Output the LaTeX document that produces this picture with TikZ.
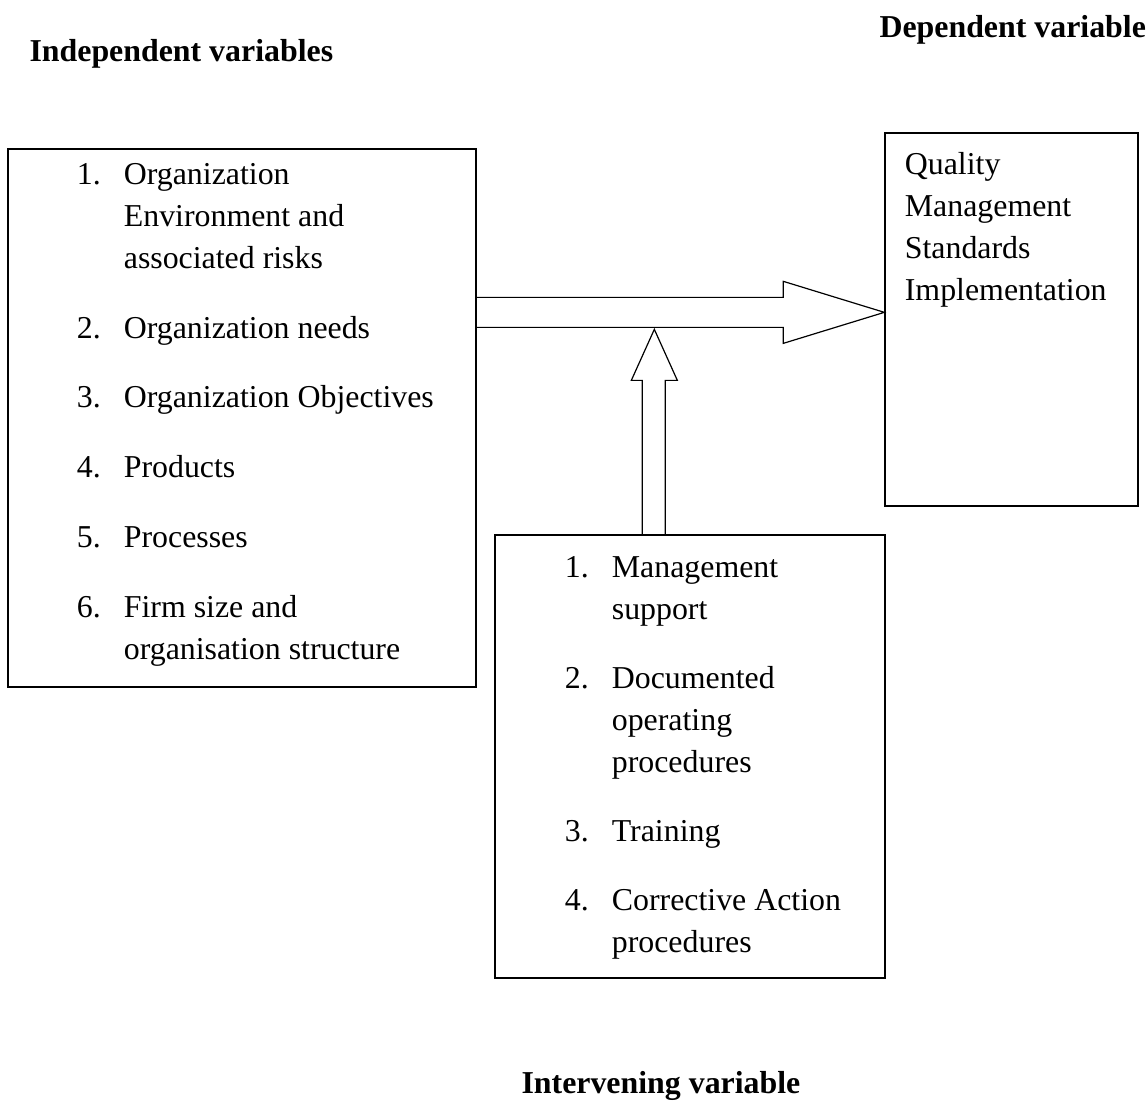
\documentclass[tikz,border=0pt]{standalone}
\usepackage{fontspec}
\setmainfont{Liberation Serif}
\usetikzlibrary{calc,fit}

\tikzset{
  varbox/.style={draw,line width=0.5pt,inner sep=0pt},
  heading/.style={font=\fontsize{12pt}{14pt}\selectfont\bfseries,
    inner sep=0pt,anchor=base west},
  listtext/.style={inner sep=0pt,anchor=base west,align=left,
    font=\fontsize{12pt}{15.8pt}\selectfont},
  blockarrow/.style={line width=0.45pt,line join=miter}
}

\begin{document}
\begin{tikzpicture}[x=0.3766pt,y=-0.3766pt]
  \useasboundingbox (0,0) rectangle (1147,1102);

  % the three boxes
  \node[varbox,fit={(8,149) (476,687)}] (indbox) {};
  \node[varbox,fit={(885,133) (1138,506)}] (depbox) {};
  \node[varbox,fit={(495,535) (885,978)}] (intbox) {};

  % headings
  \node[heading] (indhead) at (29,61) {Independent variables};
  \node[heading] (dephead) at (879,37) {Dependent variable};
  \node[heading] (inthead) at (521,1093) {Intervening variable};

  % box contents
  \node[listtext] (indlist) at ($(indbox.north west)+(69,36)$) {%
    \begin{tabular}[t]{@{}p{17.7pt}@{}l@{}}
      1. & Organization\\
         & Environment and\\
         & associated risks\\[10.5pt]
      2. & Organization needs\\[10.5pt]
      3. & Organization Objectives\\[10.5pt]
      4. & Products\\[10.5pt]
      5. & Processes\\[10.5pt]
      6. & Firm size and\\
         & organisation structure
    \end{tabular}};
  \node[listtext] (deplist) at ($(depbox.north west)+(20,42)$) {%
    \begin{tabular}[t]{@{}l@{}}
      Quality\\
      Management\\
      Standards\\
      Implementation
    \end{tabular}};
  \node[listtext] (intlist) at ($(intbox.north west)+(70,43)$) {%
    \begin{tabular}[t]{@{}p{17.7pt}@{}l@{}}
      1. & Management\\
         & support\\[10.2pt]
      2. & Documented\\
         & operating\\
         & procedures\\[10.2pt]
      3. & Training\\[10.2pt]
      4. & Corrective Action\\
         & procedures
    \end{tabular}};

  % block arrows
  \coordinate (htail) at ($(indbox.north east)+(0,164)$);
  \coordinate (htip) at (depbox.west |- htail);
  \draw[blockarrow]
    ($(htail)+(0,-15)$) -- ($(htip)+(-101,-15)$) -- ($(htip)+(-101,-31)$)
    -- (htip) -- ($(htip)+(-101,31)$) -- ($(htip)+(-101,15)$)
    -- ($(htail)+(0,15)$);

  \coordinate (vtail) at ($(intbox.north west)+(160,0)$);
  \coordinate (vtip) at ($(vtail |- htail)+(0,17)$);
  \draw[blockarrow]
    ($(vtail)+(-12,0)$) -- ($(vtip)+(-12,51)$) -- ($(vtip)+(-23,51)$)
    -- (vtip) -- ($(vtip)+(23,51)$) -- ($(vtip)+(11,51)$)
    -- ($(vtail)+(11,0)$);
\end{tikzpicture}
\end{document}
